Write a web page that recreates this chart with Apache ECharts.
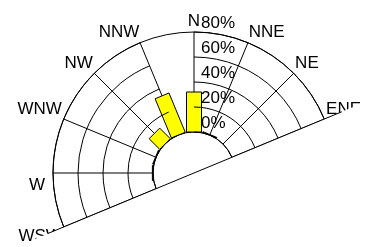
<!DOCTYPE html>
<html>
<head>
<meta charset="utf-8">
<script src="https://cdn.jsdelivr.net/npm/echarts@6/dist/echarts.min.js"></script>
<style>
  html, body { margin: 0; padding: 0; background: #fff; }
  #chart { width: 370px; height: 247px; }
</style>
</head>
<body>
<div id="chart"></div>
<script>
// compass sectors, clockwise from north
const directions = ['N', 'NNE', 'NE', 'ENE', 'E', 'ESE', 'SE', 'SSE',
  'S', 'SSW', 'SW', 'WSW', 'W', 'WNW', 'NW', 'NNW']
// frequency (%) per direction
const barDirections = ['N', 'NNE', 'NW', 'NNW', 'WNW', 'W']
const barValues = [32, 0.5, 12, 34, 0.5, 0.5]
const radiusTicks = [0, 20, 40, 60, 80]

// layout
const CX = 194
const CY = 173
const R0 = 41
const R1 = 141
const HALF_BAR = 7.5
const CUT_ANGLE = 22.5 * Math.PI / 180
const FONT = "'Liberation Sans', Arial, sans-serif"

const chart = echarts.init(document.getElementById('chart'), null, { renderer: 'canvas' })

const barData = barDirections.map(function (d, i) {
  return [barValues[i], directions.indexOf(d)]
})

// lower edge: the view is cut along the ENE-WSW line
function onCut (t) {
  return [CX + t * Math.cos(CUT_ANGLE), CY - t * Math.sin(CUT_ANGLE)]
}
const cutLeft = onCut((36 - CX) / Math.cos(CUT_ANGLE))
const cutRight = onCut((420 - CX) / Math.cos(CUT_ANGLE))
const lineA = onCut(-158)
const lineB = onCut(160)

function renderBar (params, api) {
  const val = api.value(0)
  const ang = api.value(1)
  const base = api.coord([0, ang])
  const tip = api.coord([val, ang])
  const cs = params.coordSys
  const dx = base[0] - cs.cx
  const dy = base[1] - cs.cy
  const len = Math.sqrt(dx * dx + dy * dy)
  const nx = -dy / len * HALF_BAR
  const ny = dx / len * HALF_BAR
  return {
    type: 'polygon',
    shape: {
      points: [
        [base[0] + nx, base[1] + ny],
        [tip[0] + nx, tip[1] + ny],
        [tip[0] - nx, tip[1] - ny],
        [base[0] - nx, base[1] - ny]
      ]
    },
    style: { fill: '#ffff00', stroke: '#000', lineWidth: 1 }
  }
}

const option = {
  animation: false,
  backgroundColor: '#fff',
  polar: { center: [CX, CY], radius: [R0, R1] },
  angleAxis: {
    type: 'category',
    data: directions,
    boundaryGap: false,
    startAngle: 90,
    clockwise: true,
    axisLine: { show: true, lineStyle: { color: '#000', width: 1 } },
    axisTick: { show: false },
    splitLine: { show: true, lineStyle: { color: '#000', width: 1 } },
    axisLabel: {
      show: true,
      margin: 2,
      color: '#000',
      fontSize: 17,
      fontFamily: FONT,
      // the W label sits below its axis line in the picture
      formatter: function (v) { return v === 'W' ? '{low|W}' : v },
      rich: {
        low: { padding: [24, 6, 0, 0], color: '#000', fontSize: 17, fontFamily: FONT }
      }
    }
  },
  radiusAxis: {
    type: 'value',
    min: radiusTicks[0],
    max: radiusTicks[radiusTicks.length - 1],
    interval: radiusTicks[1] - radiusTicks[0],
    axisLine: { show: false },
    axisTick: { show: false },
    splitLine: { show: true, lineStyle: { color: '#000', width: 1 } },
    axisLabel: {
      show: true,
      formatter: '{value}%',
      color: '#000',
      fontSize: 17,
      fontFamily: FONT,
      margin: -7,
      align: 'left',
      verticalAlign: 'bottom'
    },
    z: 10
  },
  series: [
    {
      type: 'custom',
      coordinateSystem: 'polar',
      renderItem: renderBar,
      data: barData,
      z: 5
    }
  ],
  graphic: [
    {
      type: 'polygon',
      z: 100,
      silent: true,
      shape: { points: [cutLeft, cutRight, [420, 300], [cutLeft[0], 300]] },
      style: { fill: '#fff' }
    },
    {
      type: 'line',
      z: 101,
      silent: true,
      shape: { x1: lineA[0], y1: lineA[1], x2: lineB[0], y2: lineB[1] },
      style: { stroke: '#000', lineWidth: 1 }
    }
  ]
}

chart.setOption(option)
</script>
</body>
</html>
